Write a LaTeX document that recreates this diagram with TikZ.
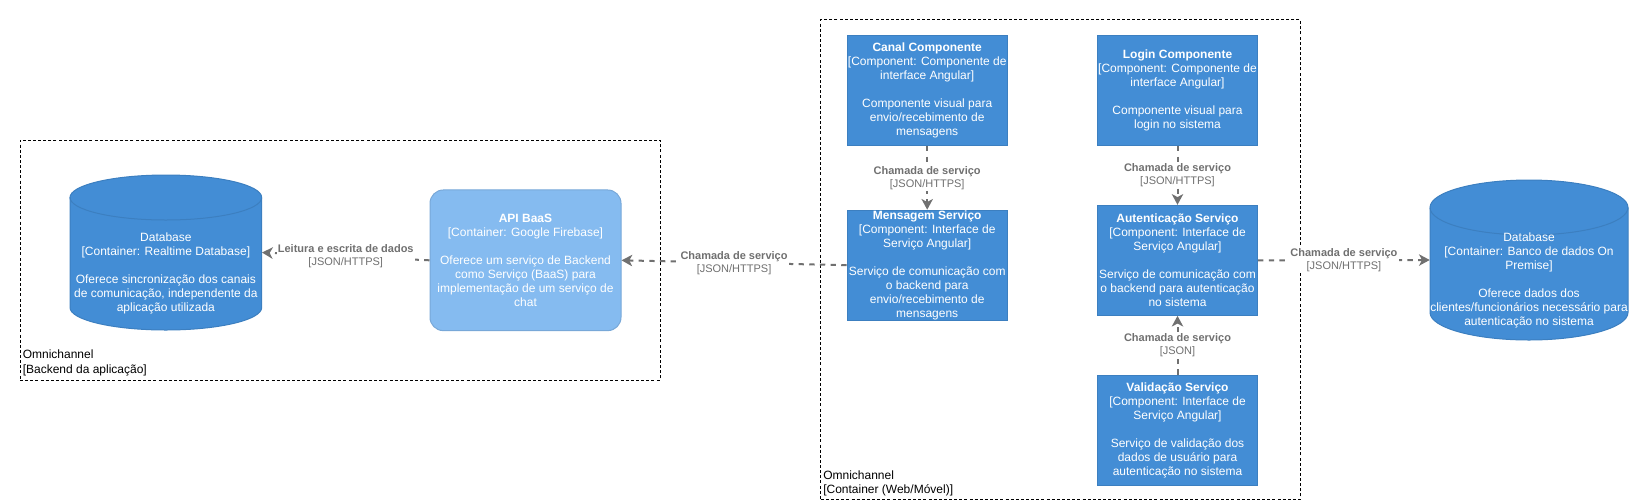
\documentclass[tikz,border=0pt]{standalone}
\usepackage{fontspec}
\setmainfont{Liberation Sans}
\usetikzlibrary{arrows.meta}
\definecolor{comp}{HTML}{438DD5}
\definecolor{compline}{HTML}{3C7FC0}
\definecolor{cont}{HTML}{85BBF0}
\definecolor{contline}{HTML}{78A8D8}
\definecolor{relc}{HTML}{707070}
\begin{document}
\begin{tikzpicture}[x=0.75pt,y=-0.75pt,
  txt/.style={align=center, text=white, inner sep=0pt, font=\fontsize{9}{10.5}\selectfont},
  compbox/.style={txt, draw=compline, fill=comp, line width=0.75pt, minimum width=120.2pt, minimum height=82.5pt},
  contbox/.style={txt, draw=contline, fill=cont, line width=0.75pt, rounded corners=10pt, minimum width=143.25pt, minimum height=105.5pt},
  dbshape/.style={draw=compline, fill=comp, line width=0.75pt},
  boundary/.style={draw=black, line width=0.75pt, dash pattern=on 2.25pt off 1.6pt, inner sep=0pt},
  blabel/.style={align=left, inner sep=0pt, anchor=west, font=\fontsize{9}{10.9}\selectfont},
  rel/.style={draw=relc, line width=1.5pt, dash pattern=on 4pt off 4pt, -{Stealth[length=8pt, width=8.5pt, inset=2.2pt]}},
  lbl/.style={fill=white, text=relc, inner sep=1pt, align=center, font=\fontsize{8.25}{9.9}\selectfont, solid}
]
\useasboundingbox (0,0) rectangle (1631,501);

% boundaries
\node[boundary, minimum width=480pt, minimum height=180pt] (bL) at (340,260) {};
\node[blabel] (bLt) at (22.5,363) {Omnichannel\\{[}Backend da aplicação{]}};
\node[boundary, minimum width=359.6pt, minimum height=359.8pt] (bR) at (1060.45,259.65) {};
\node[blabel] (bRt) at (823,483.2) {Omnichannel\\{[}Container (Web/Móvel){]}};

% left database (cylinder)
\node[minimum width=143.8pt, minimum height=116.25pt, inner sep=0pt] (dbL) at (165.85,252.5) {};
\path[dbshape] (70,197.5) -- (70,307.5)
  arc[start angle=180, end angle=360, x radius=71.89pt, y radius=16.875pt]
  -- (261.7,197.5)
  arc[start angle=0, end angle=180, x radius=71.89pt, y radius=16.875pt] -- cycle;
\draw[compline, line width=0.75pt] (70,197.5)
  arc[start angle=180, end angle=360, x radius=71.89pt, y radius=16.875pt];
\node[txt] (dbLt) at (165.85,273.7) {Database\\{[}Container: Realtime Database{]}\\ ~ \\Oferece sincronização dos canais\\de comunicação, independente da\\aplicação utilizada};

% right database (cylinder)
\node[minimum width=148.5pt, minimum height=120pt, inner sep=0pt] (dbR) at (1529,260) {};
\path[dbshape] (1430,207.5) -- (1430,312.5)
  arc[start angle=180, end angle=360, x radius=74.25pt, y radius=20.625pt]
  -- (1628,207.5)
  arc[start angle=0, end angle=180, x radius=74.25pt, y radius=20.625pt] -- cycle;
\draw[compline, line width=0.75pt] (1430,207.5)
  arc[start angle=180, end angle=360, x radius=74.25pt, y radius=20.625pt];
\node[txt] (dbRt) at (1529,280) {Database\\{[}Container: Banco de dados On\\Premise{]}\\ ~ \\Oferece dados dos\\clientes/funcionários necessário para\\autenticação no sistema};

% API BaaS
\node[contbox] (api) at (525.5,260.3) {\textbf{API BaaS}\\{[}Container: Google Firebase{]}\\ ~ \\Oferece um serviço de Backend\\como Serviço (BaaS) para\\implementação de um serviço de\\chat};

% components
\node[compbox] (canal) at (927.2,90.5) {\textbf{Canal Componente}\\{[}Component: Componente de\\interface Angular{]}\\ ~ \\Componente visual para\\envio/recebimento de\\mensagens};
\node[compbox] (login) at (1177.5,90.5) {\textbf{Login Componente}\\{[}Component: Componente de\\interface Angular{]}\\ ~ \\Componente visual para\\login no sistema};
\node[compbox] (mens) at (927.2,265.2) {\textbf{Mensagem Serviço}\\{[}Component: Interface de\\Serviço Angular{]}\\ ~ \\Serviço de comunicação com\\o backend para\\envio/recebimento de\\mensagens};
\node[compbox] (aut) at (1177.5,260.3) {\textbf{Autenticação Serviço}\\{[}Component: Interface de\\Serviço Angular{]}\\ ~ \\Serviço de comunicação com\\o backend para autenticação\\no sistema};
\node[compbox] (valid) at (1177.5,430.2) {\textbf{Validação Serviço}\\{[}Component: Interface de\\Serviço Angular{]}\\ ~ \\Serviço de validação dos\\dados de usuário para\\autenticação no sistema};

% relations
\draw[rel] (canal) -- node[lbl] (l1) {\textbf{Chamada de serviço}\\{[}JSON/HTTPS{]}} (mens);
\draw[rel] (login) -- node[lbl] (l2) {\textbf{Chamada de serviço}\\{[}JSON/HTTPS{]}} (aut);
\draw[rel] (valid) -- node[lbl] (l3) {\textbf{Chamada de serviço}\\{[}JSON{]}} (aut);
\draw[rel] (mens.west) -- node[lbl] (l4) {\textbf{Chamada de serviço}\\{[}JSON/HTTPS{]}} (api.east);
\draw[rel] (api.west) -- node[lbl] (l5) {\textbf{Leitura e escrita de dados}\\{[}JSON/HTTPS{]}} (dbL.east);
\draw[rel] (aut.east) -- node[lbl] (l6) {\textbf{Chamada de serviço}\\{[}JSON/HTTPS{]}} (dbR.west);
\end{tikzpicture}
\end{document}
